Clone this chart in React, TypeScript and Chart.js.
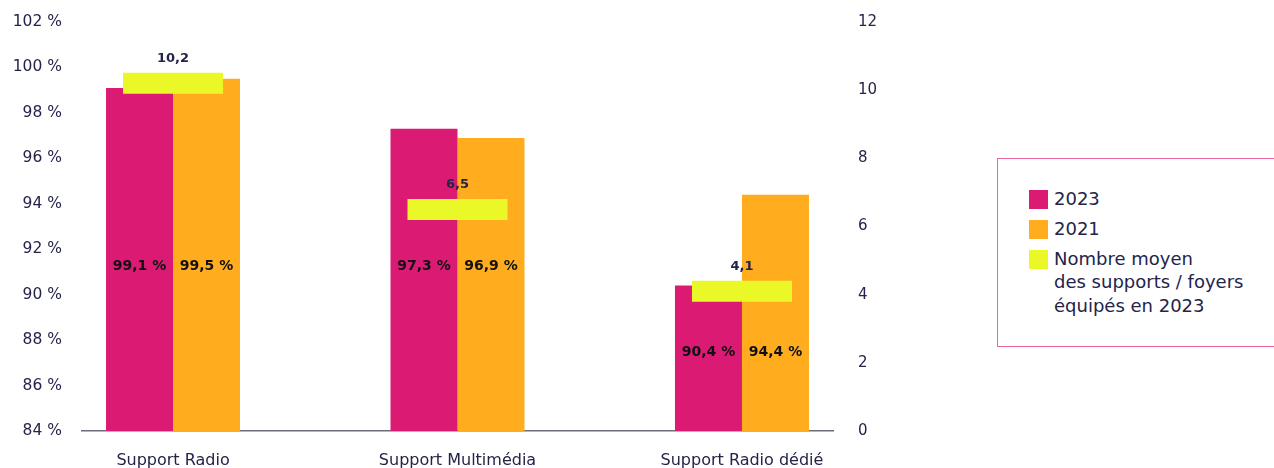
import React, { useEffect, useRef } from 'react';
import { Chart, registerables } from 'chart.js';

Chart.register(...registerables);

const categories = ['Support Radio', 'Support Multimédia', 'Support Radio dédié'];
const values2023 = [99.1, 97.3, 90.4];
const values2021 = [99.5, 96.9, 94.4];
const avgSupports2023 = [10.2, 6.5, 4.1];
const legendLabels = ['2023', '2021', 'Nombre moyen\ndes supports / foyers\néquipés en 2023'];

const MAGENTA = '#DB1A74';
const ORANGE = '#FFAD1F';
const YELLOW = '#EBF828';
const NAVY = '#24244a';
const FONT = '"DejaVu Sans", Verdana, sans-serif';

const fmt = (v: number) => v.toFixed(1).replace('.', ',');

const labelLevel = 91.25;

const labelPlugin = {
  id: 'valueLabels',
  afterDatasetsDraw(chart: any) {
    const ctx = chart.ctx;
    const yScale = chart.scales.y;
    const levelPx = yScale.getPixelForValue(labelLevel);
    const basePx = chart.chartArea.bottom;
    const m2023 = chart.getDatasetMeta(1);
    const m2021 = chart.getDatasetMeta(2);
    ctx.save();
    ctx.textAlign = 'center';
    ctx.textBaseline = 'middle';
    ctx.font = `bold 14px ${FONT}`;
    ctx.fillStyle = '#111';
    categories.forEach((_, i) => {
      const b1 = m2023.data[i];
      const b2 = m2021.data[i];
      const lowestTop = Math.max(b1.y, b2.y);
      const y = lowestTop < levelPx - 20 ? levelPx : basePx - (basePx - lowestTop) * 0.54;
      ctx.fillText(fmt(values2023[i]) + ' %', b1.x, y);
      ctx.fillText(fmt(values2021[i]) + ' %', b2.x, y);
    });
    const m = chart.getDatasetMeta(0);
    ctx.font = `bold 13px ${FONT}`;
    ctx.fillStyle = NAVY;
    m.data.forEach((pt: any, i: number) => {
      ctx.fillText(fmt(avgSupports2023[i]), pt.x, pt.y - 25);
    });
    ctx.restore();
  },
};

const noVPad = (width: number) => (s: any) => {
  s.width = width;
  s.paddingTop = 0;
  s.paddingBottom = 0;
};

export default function App() {
  const ref = useRef<HTMLCanvasElement | null>(null);

  useEffect(() => {
    if (!ref.current) return;
    const W = 900;
    const chart = new Chart(ref.current, {
      type: 'bar',
      data: {
        datasets: [
          {
            type: 'line',
            label: legendLabels[2],
            data: avgSupports2023.map((v, i) => ({ x: i, y: v })),
            yAxisID: 'y1',
            showLine: false,
            pointStyle: 'line',
            pointRadius: 50,
            pointHoverRadius: 50,
            pointBorderWidth: 21,
            pointHoverBorderWidth: 21,
            pointBorderColor: YELLOW,
            pointBackgroundColor: YELLOW,
            clip: false,
            order: 0,
          } as any,
          {
            type: 'bar',
            label: legendLabels[0],
            data: values2023.map((v, i) => ({ x: i, y: v })),
            backgroundColor: MAGENTA,
            borderWidth: 0,
            yAxisID: 'y',
            barPercentage: 1,
            categoryPercentage: 0.471,
            order: 1,
          } as any,
          {
            type: 'bar',
            label: legendLabels[1],
            data: values2021.map((v, i) => ({ x: i, y: v })),
            backgroundColor: ORANGE,
            borderWidth: 0,
            yAxisID: 'y',
            barPercentage: 1,
            categoryPercentage: 0.471,
            order: 1,
          } as any,
        ],
      },
      options: {
        animation: false,
        responsive: false,
        events: [],
        layout: { autoPadding: false, padding: { top: 22, left: 0, right: 0, bottom: 0 } },
        plugins: { legend: { display: false }, tooltip: { enabled: false } },
        scales: {
          x: {
            type: 'linear',
            min: -0.32,
            max: 2.32,
            offset: false,
            grid: { display: false, drawTicks: false },
            border: { display: true, color: '#6c6c7c', width: 1.5 },
            afterBuildTicks: (s: any) => {
              s.ticks = categories.map((_, i) => ({ value: i }));
            },
            afterFit: (s: any) => {
              s.height = 37;
              s.paddingLeft = 0;
              s.paddingRight = 0;
            },
            ticks: {
              autoSkip: false,
              maxRotation: 0,
              padding: 20,
              color: NAVY,
              font: { family: FONT, size: 16 },
              callback: (v: any) => categories[Math.round(Number(v))] ?? '',
            },
          } as any,
          y: {
            type: 'linear',
            position: 'left',
            min: 84,
            max: 102,
            grid: { display: false, drawTicks: false },
            border: { display: false },
            afterFit: noVPad(82),
            ticks: {
              stepSize: 2,
              padding: 20,
              color: NAVY,
              font: { family: FONT, size: 15.5 },
              callback: (v: any) => `${v} %`,
            },
          } as any,
          y1: {
            type: 'linear',
            position: 'right',
            min: 0,
            max: 12,
            grid: { display: false, drawTicks: false },
            border: { display: false },
            afterFit: noVPad(W - 833),
            ticks: {
              stepSize: 2,
              padding: 25,
              color: NAVY,
              font: { family: FONT, size: 15 },
            },
          } as any,
        },
      },
      plugins: [labelPlugin],
    });
    return () => chart.destroy();
  }, []);

  const colors = [MAGENTA, ORANGE, YELLOW];
  const rowTops = [32, 62, 92];

  return (
    <div style={{ position: 'absolute', left: 0, top: 0, width: 1274, height: 468, background: '#fff', overflow: 'hidden' }}>
      <canvas ref={ref} width={900} height={468} style={{ position: 'absolute', left: 0, top: 0, width: 900, height: 468 }} />
      <div
        style={{
          position: 'absolute',
          left: 997,
          top: 158,
          width: 280,
          height: 189,
          border: '1.5px solid #E8659E',
          boxSizing: 'border-box',
          fontFamily: FONT,
          fontSize: 18,
          color: NAVY,
        }}
      >
        {legendLabels.map((lab, i) => (
          <React.Fragment key={i}>
            <div style={{ position: 'absolute', left: 31, top: rowTops[i] - 1.5, width: 19, height: 19, background: colors[i] }} />
            <div style={{ position: 'absolute', left: 56, top: rowTops[i] - 4.5, lineHeight: '23.5px', whiteSpace: 'pre' }}>{lab}</div>
          </React.Fragment>
        ))}
      </div>
    </div>
  );
}
